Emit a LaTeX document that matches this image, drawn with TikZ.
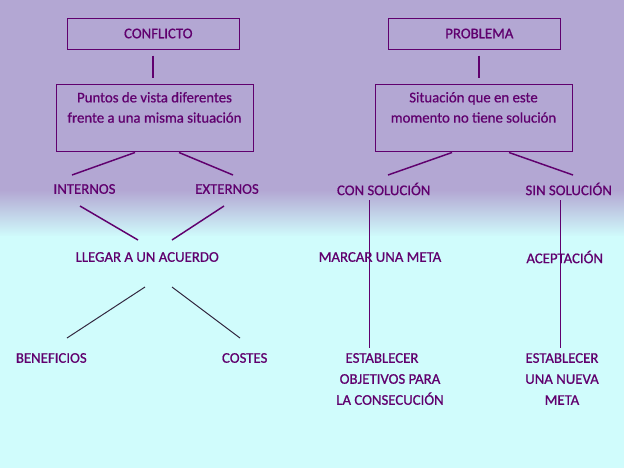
\documentclass[tikz,border=0pt]{standalone}
\usepackage{fontspec}
\setmainfont{Carlito}[FakeBold=0.7]
\usetikzlibrary{calc}
\definecolor{morado}{RGB}{96,0,110}
\definecolor{lila}{RGB}{179,167,211}
\definecolor{celeste}{RGB}{208,252,252}
\definecolor{grisoscuro}{RGB}{51,40,64}

\begin{document}
\begin{tikzpicture}[x=0.75pt,y=0.75pt,yscale=-1,xscale=1,
    caja/.style={draw=morado, line width=0.75pt, text=morado, align=center, inner sep=0pt,
        font=\fontsize{11.1}{15.2}\selectfont},
    etiqueta/.style={text=morado, align=center, inner sep=0.75pt,
        font=\fontsize{11.1}{15.75}\selectfont},
    linea/.style={draw=morado, line width=1.1pt},
    lineagris/.style={draw=grisoscuro, line width=0.75pt}]

        %Shape: Background
        \fill [lila] (0,0) rectangle (624,191) ;
        \shade [top color=lila, bottom color=celeste] (0,190) rectangle (624,237) ;
        \fill [celeste] (0,236) rectangle (624,468) ;
        \useasboundingbox (0,0) rectangle (624,468) ;

        % Boxes
        \node [caja, minimum width=129pt, minimum height=23.25pt] (conflicto) at (153,33.5) {\hspace*{8pt}CONFLICTO};
        \node [caja, minimum width=147.75pt, minimum height=50.25pt] (puntos) at (154.5,117.5) {Puntos de vista diferentes\\frente a una misma situación\\\mbox{}};
        \node [caja, minimum width=129pt, minimum height=23.25pt] (problema) at (474,33.5) {\hspace*{8pt}PROBLEMA};
        \node [caja, minimum width=147.75pt, minimum height=50.25pt] (situacion) at (473.5,117.5) {Situación que en este\\momento no tiene solución\\\mbox{}};

        % Text Node
        \node [etiqueta] (internos) at (84.5,189) {INTERNOS};
        \node [etiqueta] (externos) at (227,189) {EXTERNOS};
        \node [etiqueta] (acuerdo) at (147.2,257) {LLEGAR A UN ACUERDO};
        \node [etiqueta] (beneficios) at (51.3,358) {BENEFICIOS};
        \node [etiqueta] (costes) at (244.7,358) {COSTES};
        \node [etiqueta] (consol) at (383.7,189) {CON SOLUCIÓN};
        \node [etiqueta] (sinsol) at (568.7,189) {SIN SOLUCIÓN};
        \node [etiqueta] (marcar) at (380,257) {MARCAR UNA META};
        \node [etiqueta] (aceptacion) at (564.7,257) {ACEPTACIÓN};
        \node [etiqueta] (objetivos) at (390,379) {ESTABLECER\hspace*{12pt}\\OBJETIVOS PARA\\LA CONSECUCIÓN};
        \node [etiqueta] (nuevameta) at (562,379) {ESTABLECER\\UNA NUEVA\\META};

        %Straight Lines
        \draw [linea] ($(conflicto.south)+(0,6)$) -- ($(puntos.north)+(-1.5,-6)$) ;
        \draw [linea] ($(puntos.south)+(-19.5,1)$) -- ($(internos)+(-12.5,-14)$) ;
        \draw [linea] ($(puntos.south)+(24.5,1)$) -- ($(externos)+(6,-14)$) ;
        \draw [linea] ($(internos)+(-4.5,17)$) -- ($(acuerdo)+(-9.2,-17)$) ;
        \draw [linea] ($(externos)+(-3,17)$) -- ($(acuerdo)+(24.8,-17)$) ;
        \draw [lineagris] ($(acuerdo)+(-2.2,30)$) -- ($(beneficios)+(15.7,-20)$) ;
        \draw [lineagris] ($(acuerdo)+(24.8,30)$) -- ($(costes)+(-4.7,-20)$) ;
        %Straight Lines
        \draw [linea] ($(problema.south)+(5,6)$) -- ($(situacion.north)+(5.5,-6)$) ;
        \draw [linea] ($(situacion.south)+(-21.5,1)$) -- ($(consol)+(4.3,-14)$) ;
        \draw [linea] ($(situacion.south)+(35.5,1)$) -- ($(sinsol)+(4.3,-14)$) ;
        \draw [linea] ($(consol)+(-14.4,11)$) -- ($(objetivos)+(-20.7,-31)$) ;
        \draw [linea] ($(sinsol)+(-8.4,11)$) -- ($(nuevameta)+(-1.7,-31)$) ;

\end{tikzpicture}
\end{document}
